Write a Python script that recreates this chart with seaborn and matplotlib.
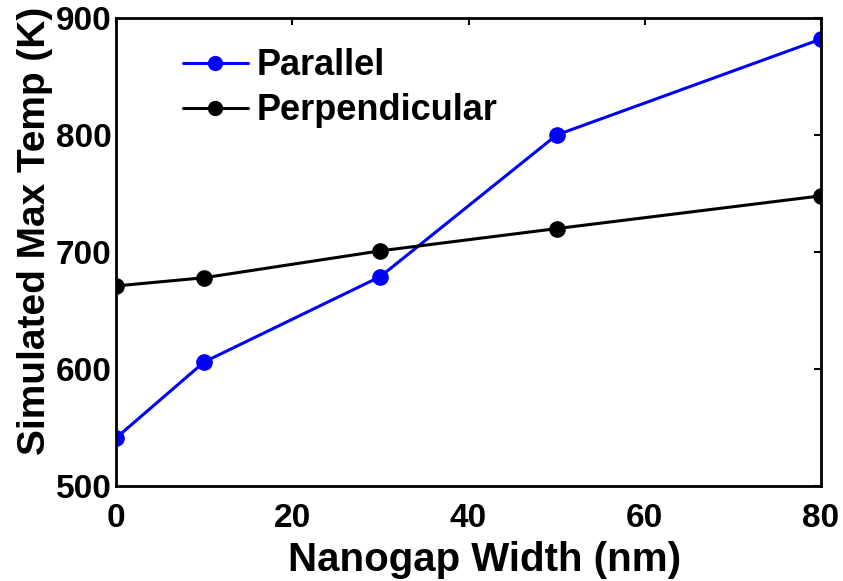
import numpy as np
import pandas as pd
import seaborn as sns
import matplotlib.pyplot as plt

gap_width = [0, 10, 30, 50, 80]
parallel = [541, 606, 679, 800, 882]
perpendicular = [671, 678, 701, 720, 748]
series_names = ["Parallel", "Perpendicular"]
x_ticks = [0, 20, 40, 60, 80]
y_ticks = [500, 600, 700, 800, 900]

df = pd.DataFrame({
    "width": gap_width * 2,
    "temp": parallel + perpendicular,
    "orientation": [series_names[0]] * len(gap_width) + [series_names[1]] * len(gap_width),
})

sns.set_style("white")
plt.rcParams['font.family'] = ['Liberation Sans', 'DejaVu Sans']
plt.rcParams['font.weight'] = 'bold'
plt.rcParams['text.color'] = 'black'
plt.rcParams['axes.labelcolor'] = 'black'
plt.rcParams['xtick.color'] = 'black'
plt.rcParams['ytick.color'] = 'black'

fig = plt.figure(figsize=(8.43, 5.81), dpi=100)
ax = fig.add_axes([116 / 843, 1 - 486 / 581, (821 - 116) / 843, (486 - 18) / 581])

sns.lineplot(data=df, x="width", y="temp", hue="orientation",
             palette={"Parallel": "#0000ff", "Perpendicular": "black"},
             marker="o", markersize=12, markeredgewidth=0, linewidth=2.2,
             ax=ax, legend=True)

ax.set_xlim(0, 80)
ax.set_ylim(500, 900)
ax.set_xticks(x_ticks)
ax.set_yticks(y_ticks)
ax.tick_params(direction="in", length=5, width=1.5, top=True, right=True,
               labelsize=24, pad=3)
ax.tick_params(axis="x", pad=12)
for lab in ax.get_xticklabels() + ax.get_yticklabels():
    lab.set_fontweight("bold")
for s in ax.spines.values():
    s.set_linewidth(2)
    s.set_color("black")

ax.set_xlabel("Nanogap Width (nm)", fontsize=29, fontweight="bold", labelpad=5)
ax.set_ylabel("Simulated Max Temp (K)", fontsize=28, fontweight="bold", labelpad=2)
ax.xaxis.label.set_x(0.523)
ax.yaxis.label.set_y(0.545)

handles, labels = ax.get_legend_handles_labels()
leg = ax.legend(handles, labels, loc="upper left", bbox_to_anchor=(0.095, 0.935),
                frameon=False, fontsize=26, handlelength=1.8, handletextpad=0.25,
                labelspacing=0.27, borderpad=0, borderaxespad=0)
for t in leg.get_texts():
    t.set_fontweight("bold")
for h in leg.get_lines():
    h.set_markersize(11)

fig.savefig("out.png", dpi=100)
